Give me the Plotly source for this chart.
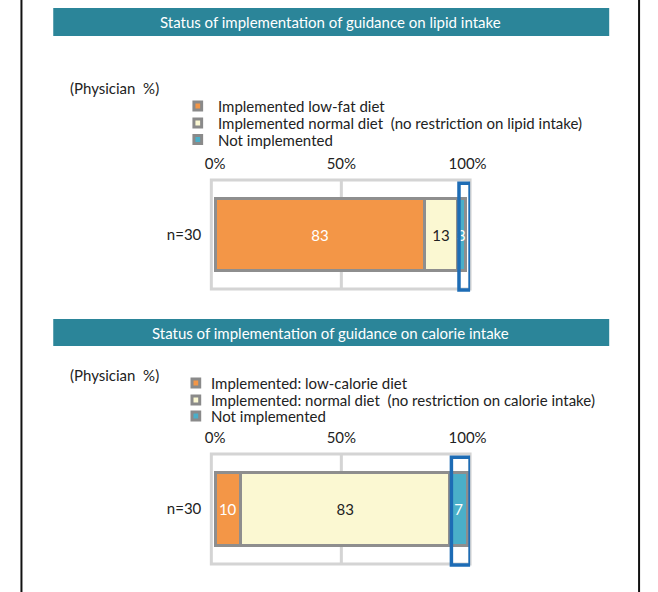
import plotly.graph_objects as go

W, H = 658, 592
FONT = "Lato"
FS = 15

# ---- data -----------------------------------------------------------------
lipid_labels = [
    "Implemented low-fat diet",
    "Implemented normal diet  (no restriction on lipid intake)",
    "Not implemented",
]
lipid_values = [83, 13, 3]

calorie_labels = [
    "Implemented: low-calorie diet",
    "Implemented: normal diet  (no restriction on calorie intake)",
    "Not implemented",
]
calorie_values = [10, 83, 7]

group_label = ["n=30"]
tick_values = [0, 50, 100]
tick_labels = ["0%", "50%", "100%"]

titles = [
    "Status of implementation of guidance on lipid intake",
    "Status of implementation of guidance on calorie intake",
]

seg_colors = ["#F39647", "#FBF8D2", "#4AAFC9"]
seg_text_colors = ["white", "#222222", "white"]
outline = "#8E8E8E"
frame_gray = "#D4D4D4"
header_teal = "#2B8599"
highlight_blue = "#1D6CB5"
text_dark = "#222222"


def px_x(p):
    return p / W


def px_y(p):
    return 1 - p / H


# x axis: 0..100 spans pixels 216..478
PX_PER_UNIT = 2.62
X_RANGE = [-1.5, 101.0]
x_dom = [px_x(216 + X_RANGE[0] * PX_PER_UNIT), px_x(216 + X_RANGE[1] * PX_PER_UNIT)]

fig = go.Figure()

panels = [
    dict(labels=lipid_labels, values=lipid_values, xa="x", ya="y",
         ydom=[px_y(289), px_y(180)],
         key_x=198, text_x=217, rows=[106, 123, 139.5]),
    dict(labels=calorie_labels, values=calorie_values, xa="x2", ya="y2",
         ydom=[px_y(564), px_y(454)],
         key_x=196, text_x=210, rows=[383, 400, 416]),
]

for p in panels:
    for lab, val, col, tcol in zip(p["labels"], p["values"], seg_colors, seg_text_colors):
        fig.add_trace(go.Bar(
            x=[val], y=group_label, orientation="h", name=lab,
            marker=dict(color=col, line=dict(color=outline, width=3)),
            text=[val], texttemplate="%{text}", textposition="inside",
            insidetextanchor="middle", textangle=0, constraintext="none",
            textfont=dict(family=FONT, size=FS, color=tcol),
            xaxis=p["xa"], yaxis=p["ya"],
            hoverinfo="skip", cliponaxis=False, showlegend=False,
        ))

axis_x = dict(range=X_RANGE, side="top", tickvals=tick_values, ticktext=tick_labels,
              showgrid=False, zeroline=False, showline=False, ticks="",
              ticklabelstandoff=7, tickfont=dict(family=FONT, size=FS, color=text_dark),
              fixedrange=True)
axis_y = dict(showgrid=False, zeroline=False, showline=False, ticks="",
              ticklabelstandoff=9, tickfont=dict(family=FONT, size=FS, color=text_dark),
              range=[-0.5, 0.5], fixedrange=True)

fig.update_layout(
    width=W, height=H,
    margin=dict(l=0, r=0, t=0, b=0),
    paper_bgcolor="white", plot_bgcolor="rgba(0,0,0,0)",
    barmode="stack", bargap=0.34,
    showlegend=False,
    font=dict(family=FONT, size=FS, color=text_dark),
    xaxis=dict(axis_x, domain=x_dom, anchor="y"),
    yaxis=dict(axis_y, domain=panels[0]["ydom"], anchor="x"),
    xaxis2=dict(axis_x, domain=x_dom, anchor="y2"),
    yaxis2=dict(axis_y, domain=panels[1]["ydom"], anchor="x2"),
)

shapes = []
annotations = []

# page border lines
for xx in (15, 656):
    shapes.append(dict(type="line", xref="paper", yref="paper", x0=px_x(xx), x1=px_x(xx),
                       y0=0, y1=1, line=dict(color="#111111", width=2)))

# header bands
for title, (top, bot) in zip(titles, [(8, 36), (319, 346)]):
    shapes.append(dict(type="rect", xref="paper", yref="paper",
                       x0=px_x(48), x1=px_x(625), y0=px_y(bot), y1=px_y(top),
                       fillcolor=header_teal, line=dict(width=0), layer="below"))
    annotations.append(dict(text=title, xref="paper", yref="paper",
                            x=px_x(336), y=px_y((top + bot) / 2),
                            xanchor="center", yanchor="middle", showarrow=False,
                            font=dict(family=FONT, size=FS, color="white")))

# unit caption
for yy in (88, 375):
    annotations.append(dict(text="(Physician  %)", xref="paper", yref="paper",
                            x=px_x(63), y=px_y(yy), xanchor="left", yanchor="middle",
                            showarrow=False,
                            font=dict(family=FONT, size=FS, color=text_dark)))

for p in panels:
    xa, ya = p["xa"], p["ya"]
    # key: grey square with a coloured core, one row per category
    for lab, col, row in zip(p["labels"], seg_colors, p["rows"]):
        shapes.append(dict(type="rect", xref="paper", yref="paper",
                           x0=px_x(p["key_x"] - 4), x1=px_x(p["key_x"] + 4),
                           y0=px_y(row + 4), y1=px_y(row - 4),
                           fillcolor=col, line=dict(color="#8A8A8A", width=3)))
        annotations.append(dict(text=lab, xref="paper", yref="paper",
                                x=px_x(p["text_x"]), y=px_y(row),
                                xanchor="left", yanchor="middle", showarrow=False,
                                font=dict(family=FONT, size=FS, color=text_dark)))
    # plot frame and the 50% guide
    shapes.append(dict(type="rect", xref=f"{xa} domain", yref=f"{ya} domain",
                       x0=0, x1=1, y0=0, y1=1, layer="below",
                       line=dict(color=frame_gray, width=3)))
    shapes.append(dict(type="line", xref=xa, yref=f"{ya} domain",
                       x0=50, x1=50, y0=0, y1=1, layer="below",
                       line=dict(color=frame_gray, width=3)))
    # highlight around the "Not implemented" segment
    start = sum(p["values"][:2])
    shapes.append(dict(type="rect", xref=xa, yref=f"{ya} domain",
                       x0=start + 0.6, x1=101.0, y0=-0.01, y1=0.97, layer="above",
                       line=dict(color=highlight_blue, width=3.5)))

fig.update_layout(shapes=shapes, annotations=annotations)

fig.write_html("out.html", config={"displayModeBar": False})
